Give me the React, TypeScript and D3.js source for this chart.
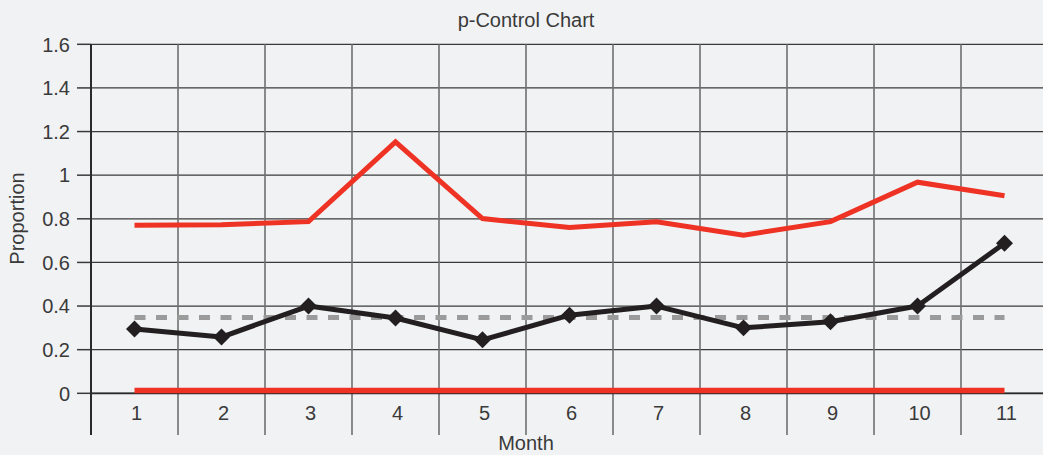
import React from "react";
import * as d3 from "d3";

const months = ["1", "2", "3", "4", "5", "6", "7", "8", "9", "10", "11"];
const proportion = [0.295, 0.258, 0.40, 0.345, 0.245, 0.358, 0.40, 0.30, 0.328, 0.40, 0.688];
const centerLine = [0.347, 0.347, 0.347, 0.347, 0.347, 0.347, 0.347, 0.347, 0.347, 0.347, 0.347];
const ucl = [0.771, 0.773, 0.787, 1.153, 0.801, 0.76, 0.786, 0.725, 0.787, 0.968, 0.906];
const lcl = [0.013, 0.013, 0.013, 0.013, 0.013, 0.013, 0.013, 0.013, 0.013, 0.013, 0.013];
const yTicks = [0, 0.2, 0.4, 0.6, 0.8, 1, 1.2, 1.4, 1.6];

const W = 1043;
const H = 455;
const FONT = "'Liberation Sans', Arial, sans-serif";
const TXT = "#3a3a3a";

export default function App() {
  const left = 91;
  const bandW = 87;
  const x = d3
    .scaleBand<string>()
    .domain(months)
    .range([left, left + bandW * months.length])
    .paddingInner(0)
    .paddingOuter(0);
  const y = d3.scaleLinear().domain([0, 1.6]).range([393.3, 44.3]);
  const cx = (m: string) => (x(m) as number) + x.bandwidth() / 2;

  const line = d3
    .line<number>()
    .x((_, i) => cx(months[i]))
    .y((d) => y(d));

  const boundaries = months.map((m) => x(m) as number).concat([(x(months[months.length - 1]) as number) + bandW]);

  return (
    <svg
      width={W}
      height={H}
      style={{ position: "absolute", left: 0, top: 0, display: "block", background: "#f1f2f4" }}
    >
      <rect x={0} y={0} width={W} height={H} fill="#f1f2f4" />
      <text x={526} y={27} textAnchor="middle" fontFamily={FONT} fontSize={20} fill={TXT}>
        p-Control Chart
      </text>
      {/* horizontal grid */}
      {yTicks.map((t) => (
        <g key={"h" + t}>
          <line x1={left} x2={W} y1={y(t)} y2={y(t)} stroke="#3a3a3a" strokeWidth={1.2} />
          <line x1={77} x2={left} y1={y(t)} y2={y(t)} stroke="#3a3a3a" strokeWidth={1.5} />
          <text
            x={70}
            y={y(t)}
            dy="0.36em"
            textAnchor="end"
            fontFamily={FONT}
            fontSize={20}
            fill={TXT}
          >
            {String(t)}
          </text>
        </g>
      ))}
      {/* vertical grid */}
      {boundaries.slice(1).map((b, i) => (
        <line key={"v" + i} x1={b} x2={b} y1={y(1.6)} y2={435} stroke="#6f6f6f" strokeWidth={1.6} />
      ))}
      {/* y axis */}
      <line x1={left} x2={left} y1={y(1.6)} y2={435} stroke="#2a2a2a" strokeWidth={2} />
      {/* x axis */}
      <line x1={left} x2={W} y1={y(0)} y2={y(0)} stroke="#2a2a2a" strokeWidth={1.8} />
      {months.map((m) => (
        <text
          key={"xl" + m}
          x={cx(m) + 2}
          y={420}
          textAnchor="middle"
          fontFamily={FONT}
          fontSize={20}
          fill={TXT}
        >
          {m}
        </text>
      ))}
      <text x={526} y={450} textAnchor="middle" fontFamily={FONT} fontSize={20} fill={TXT}>
        Month
      </text>
      <text
        transform={`translate(24,218.5) rotate(-90)`}
        textAnchor="middle"
        fontFamily={FONT}
        fontSize={20}
        fill={TXT}
      >
        Proportion
      </text>
      {/* center line */}
      <path
        d={line(centerLine) || ""}
        fill="none"
        stroke="#9b9b9b"
        strokeWidth={5}
        strokeDasharray="11 10.5"
      />
      {/* LCL */}
      <path d={line(lcl) || ""} fill="none" stroke="#ee3224" strokeWidth={5.5} />
      {/* UCL */}
      <path d={line(ucl) || ""} fill="none" stroke="#ee3224" strokeWidth={5} strokeLinejoin="miter" />
      {/* proportion */}
      <path d={line(proportion) || ""} fill="none" stroke="#231f20" strokeWidth={5} strokeLinejoin="round" />
      {proportion.map((v, i) => (
        <rect
          key={"p" + i}
          x={-6}
          y={-6}
          width={12}
          height={12}
          fill="#231f20"
          transform={`translate(${cx(months[i])},${y(v)}) rotate(45)`}
        />
      ))}
    </svg>
  );
}
